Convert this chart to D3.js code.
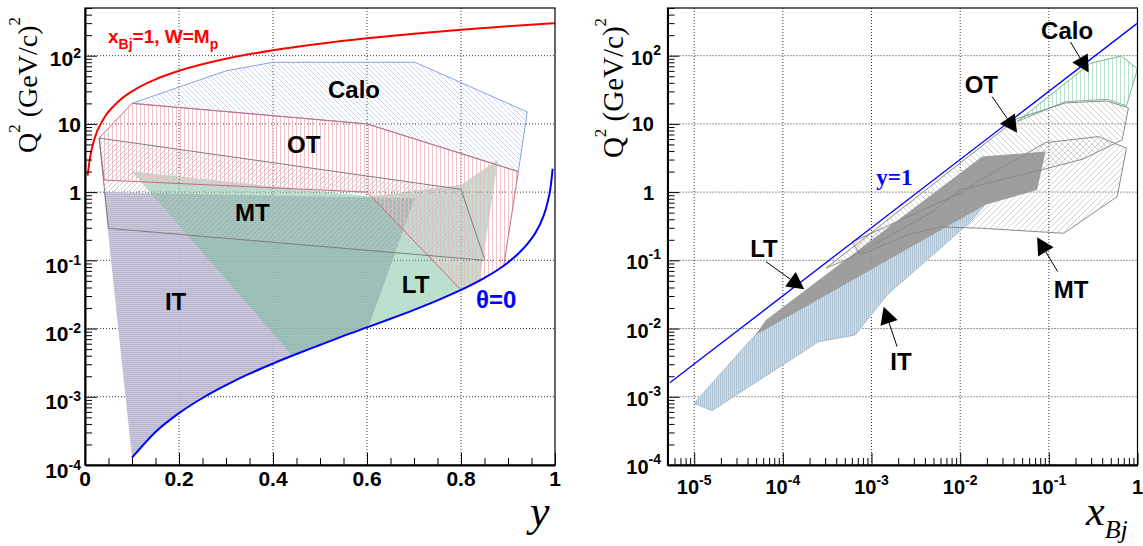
<!DOCTYPE html>
<html><head><meta charset="utf-8">
<script src="https://cdn.jsdelivr.net/npm/d3@7"></script>
<style>body{margin:0;background:#fff}svg{display:block}</style>
</head><body>
<svg id="c" width="1143" height="546"></svg>
<script>
// ---------- DATA (left panel: y vs Q2) ----------
const redY  = [0.0057,0.01,0.02,0.04,0.07,0.1,0.15,0.2,0.3,0.4,0.5,0.6,0.7,0.8,0.9,1.0];
const redQ  = [1.75,3,6,12,21,30,45,60,90,120,150,180,210,240,270,300];
const blueY = [0.1,0.15,0.2,0.25,0.3,0.35,0.4,0.45,0.5,0.55,0.6,0.65,0.7,0.75,0.8,0.85,0.88,0.9,0.92,0.94,0.96,0.97,0.98,0.985,0.99,0.995];
const blueQ = [1.28e-4,3.05e-4,5.75e-4,9.6e-4,1.48e-3,2.18e-3,3.07e-3,4.23e-3,5.75e-3,7.8e-3,0.0104,0.0139,0.0188,0.0259,0.0368,0.0554,0.074,0.0932,0.122,0.17,0.265,0.36,0.55,0.75,1.1,2.2];
const leftIT   = [[0.04,1.0],[0.702,0.81],[0.603,0.0106],[0.55,0.0078],[0.5,0.00575],[0.45,0.00423],[0.4,0.00307],[0.35,0.00218],[0.3,0.00148],[0.25,0.00096],[0.2,0.000575],[0.15,0.000305],[0.1,0.000128]];
const leftLT   = [[0.1,2.0],[0.606,0.86],[0.8,1.28],[0.879,3.0],[0.84,0.051],[0.8,0.0368],[0.75,0.0259],[0.7,0.0188],[0.65,0.0139],[0.6,0.0104],[0.55,0.0078],[0.5,0.00575],[0.44,0.0041]];
const leftCalo = [[0.1,20],[0.3,60],[0.4,80],[0.702,80],[0.941,15],[0.922,2.0],[0.6,10]];
const leftOT   = [[0.03,6.2],[0.1,20],[0.6,10],[0.922,2.0],[0.891,0.084],[0.85,0.0554],[0.8,0.0368],[0.6,1.0],[0.041,1.5]];
const leftMT   = [[0.03,6.2],[0.8,1.1],[0.851,0.1],[0.05,0.295]];
const leftLabels = [["Calo",0.517,24],["OT",0.43,3.72],["MT",0.319,0.382],["IT",0.170,0.0188],["LT",0.674,0.0336]];
const thetaLabel = [0.832,0.02];
const xbjLabel = [0.049,154];

// ---------- DATA (right panel: xBj vs Q2) ----------
const yOneX = [5.3e-6, 1];
const yOneQ = [1.6e-3, 300];
const rightIT   = [[1.0e-5,8.04e-4],[1.585e-5,6.25e-4],[2.53e-4,6.43e-3],[6.56e-4,8.05e-3],[1.496e-3,0.0311],[0.01303,0.3656],[0.019,0.65],[4.875e-5,8.05e-3]];
const rightLT   = [[4.875e-5,8.05e-3],[6.442e-5,0.01337],[0.01766,3.319],[0.09162,3.926],[0.07379,1.076],[0.019,0.65]];
const rightCalo = [[0.04385,10.81],[0.1538,21.23],[0.455,22.86],[0.7516,18.37],[1.0,63.97],[0.6592,99.3],[0.2951,77.6]];
const rightOT   = [[3.09e-4,0.0774],[0.04305,11.83],[0.1538,20.3],[0.4467,21.7],[0.7907,17.18],[0.6714,5.82],[0.2455,3.069],[0.09162,2.188],[0.01005,1.076],[4.613e-3,0.4955],[5.768e-4,0.1084]];
const rightMT   = [[6.067e-4,0.1862],[0.01005,0.9727],[0.0169,1.51],[0.09162,5.321],[0.3631,6.516],[0.7516,4.406],[0.5902,0.859],[0.1472,0.2495],[0.0169,0.2958],[5.984e-3,0.309],[2.518e-3,0.2355],[7.482e-4,0.12]];
const arrowNames  = ["Calo","OT","LT","IT","MT"];
const arrowStartX = [0.1754,0.02291,6.442e-5,1.941e-3,0.1259];
const arrowStartQ = [159.2,25.1,0.0957,5.433e-3,0.06823];
const arrowTipX   = [0.2818,0.04385,1.742e-4,1.371e-3,0.07379];
const arrowTipQ   = [56.5,7.447,0.03767,0.02094,0.2183];
const rightLabels = [["Calo",0.0818,174.6],["OT",0.01125,28.77],["LT",4.285e-5,0.1132],["IT",1.629e-3,2.472e-3],["MT",0.1135,0.0278]];
const yOneLabel = [1.132e-3,1.276];

// ---------- TICKS ----------
const qTicks   = [1e-4,1e-3,1e-2,1e-1,1,10,100];
const qLabels  = [["10","-4"],["10","-3"],["10","-2"],["10","-1"],["1",""],["10",""],["10","2"]];
const yTicks   = [0,0.2,0.4,0.6,0.8,1];
const yTickLab = ["0","0.2","0.4","0.6","0.8","1"];
const xTicks   = [1e-5,1e-4,1e-3,1e-2,1e-1,1];
const xLabels  = [["10","-5"],["10","-4"],["10","-3"],["10","-2"],["10","-1"],["1",""]];

// ---------- SETUP ----------
const svg = d3.select('#c');
const defs = svg.append('defs');
const PT = 8, PB = 465;
const xL = d3.scaleLinear().domain([0,1]).range([85,555]);
const yL = d3.scaleLog().domain([1e-4,500]).range([PB,PT]);
const xR = d3.scaleLog().domain([5e-6,1]).range([667.5,1137.5]);
const yR = yL.copy();
const SANS = '"Liberation Sans", Arial, Helvetica, sans-serif';
const SERIF = '"Liberation Serif", "Times New Roman", serif';

function pattern(id, type, color, s, bg, w) {
  const p = defs.append('pattern').attr('id',id).attr('patternUnits','userSpaceOnUse').attr('width',s).attr('height',s);
  if (bg) p.append('rect').attr('width',s).attr('height',s).attr('fill',bg);
  let d;
  if (type==='v') d = `M0.5,0V${s}`;
  else if (type==='h') d = `M0,0.5H${s}`;
  else if (type==='b') d = `M0,0L${s},${s}M${-1},${s-1}L1,${s+1}M${s-1},-1L${s+1},1`;
  else d = `M0,${s}L${s},0M-1,1L1,-1M${s-1},${s+1}L${s+1},${s-1}`;
  p.append('path').attr('d',d).attr('stroke',color).attr('stroke-width',w||1).attr('fill','none');
}
pattern('pCaloL','b','#c3d1f0',5,null,0.9);
pattern('pOTL','v','#ecbcc3',4,null,0.9);
pattern('pMTL','f','#c6c6c6',5,null,0.9);
pattern('pITL','h','#b6b1cc',2,'#c8c3db');
pattern('pCaloR','v','#b2dcc4',4,null,0.9);
pattern('pOTR','b','#cdcdcd',6,null,0.9);
pattern('pMTR','f','#cdcdcd',6,null,0.9);
pattern('pITR','v','#b0c4d3',2,'#d0dce6');

defs.append('clipPath').attr('id','clipL').append('rect').attr('x',85).attr('y',PT).attr('width',470).attr('height',PB-PT);
defs.append('clipPath').attr('id','clipR').append('rect').attr('x',667.5).attr('y',PT).attr('width',470).attr('height',PB-PT);

function minorLog(lo, hi) {
  const out = [];
  for (let e = -7; e <= 3; e++) for (let m = 2; m <= 9; m++) { const v = m*Math.pow(10,e); if (v>lo && v<=hi) out.push(v); }
  return out;
}

// ---------- PANEL DRAWING ----------
function grid(g, xs, xVals, ys) {
  xVals.forEach(v => g.append('line').attr('x1',xs(v)).attr('x2',xs(v)).attr('y1',PT).attr('y2',PB)
    .attr('stroke','#333').attr('stroke-width',1).attr('stroke-dasharray','1,2'));
  qTicks.slice(1).forEach(v => g.append('line').attr('x1',xs.range()[0]).attr('x2',xs.range()[1]).attr('y1',ys(v)).attr('y2',ys(v))
    .attr('stroke','#333').attr('stroke-width',1).attr('stroke-dasharray','1,2'));
}
function poly(g, pts, xs, ys, fill, stroke, op) {
  const line = d3.line().x(d=>xs(d[0])).y(d=>ys(d[1]));
  return g.append('path').attr('d', line(pts)+'Z').attr('fill',fill||'none')
    .attr('stroke',stroke||'none').attr('stroke-width',1).attr('fill-opacity',op==null?1:op);
}

// LEFT
const gL = svg.append('g');
const cL = gL.append('g').attr('clip-path','url(#clipL)');
grid(cL, xL, [0.2,0.4,0.6,0.8], yL);
poly(cL, leftIT, xL, yL, 'url(#pITL)', null, 0.92);
poly(cL, leftLT, xL, yL, 'rgb(112,190,150)', null, 0.48);
poly(cL, leftCalo, xL, yL, 'url(#pCaloL)', null);
poly(cL, leftOT, xL, yL, 'url(#pOTL)', null);
poly(cL, leftMT, xL, yL, 'url(#pMTL)', null);
poly(cL, leftCalo, xL, yL, 'none', '#86a4e2');
poly(cL, leftOT, xL, yL, 'none', '#cc6a78');
poly(cL, leftMT, xL, yL, 'none', '#7e7e7e');
const curveL = d3.line().x(d=>xL(d[0])).y(d=>yL(d[1])).curve(d3.curveMonotoneX);
cL.append('path').attr('d', curveL(redY.map((v,i)=>[v,redQ[i]]))).attr('fill','none').attr('stroke','#ff0000').attr('stroke-width',2);
cL.append('path').attr('d', curveL(blueY.map((v,i)=>[v,blueQ[i]]))).attr('fill','none').attr('stroke','#0000ff').attr('stroke-width',2);

leftLabels.forEach(l => gL.append('text').attr('x',xL(l[1])).attr('y',yL(l[2])).text(l[0])
  .attr('font-family',SANS).attr('font-weight','bold').attr('font-size',24).attr('fill','#000'));
gL.append('text').attr('x',xL(thetaLabel[0])).attr('y',yL(thetaLabel[1])).text('θ=0')
  .attr('font-family',SANS).attr('font-weight','bold').attr('font-size',24).attr('fill','#0000ff');
{
  const t = gL.append('text').attr('x',xL(xbjLabel[0])).attr('y',yL(xbjLabel[1]))
    .attr('font-family',SANS).attr('font-weight','bold').attr('font-size',19).attr('fill','#ff0000');
  t.append('tspan').text('x');
  t.append('tspan').attr('font-size',14).attr('dy',6).text('Bj');
  t.append('tspan').attr('dy',-6).text('=1, W=M');
  t.append('tspan').attr('font-size',14).attr('dy',6).text('p');
}

// RIGHT
const gR = svg.append('g');
const cR = gR.append('g').attr('clip-path','url(#clipR)');
grid(cR, xR, [1e-5,1e-4,1e-3,1e-2,1e-1], yR);
poly(cR, rightIT, xR, yR, 'url(#pITR)', '#a9bfcf');
poly(cR, rightCalo, xR, yR, 'url(#pCaloR)', null);
poly(cR, rightOT, xR, yR, 'url(#pOTR)', null);
poly(cR, rightMT, xR, yR, 'url(#pMTR)', null);
poly(cR, rightLT, xR, yR, '#979797', null, 0.93);
poly(cR, rightCalo, xR, yR, 'none', '#79b795');
poly(cR, rightOT, xR, yR, 'none', '#8a8a8a');
poly(cR, rightMT, xR, yR, 'none', '#8a8a8a');
const lineR = d3.line().x(d=>xR(d[0])).y(d=>yR(d[1]));
cR.append('path').attr('d', lineR(yOneX.map((v,i)=>[v,yOneQ[i]]))).attr('fill','none').attr('stroke','#0000ff').attr('stroke-width',1.3);

function arrow(g, x0,y0,x1,y1) {
  const dx=x1-x0, dy=y1-y0, L=Math.hypot(dx,dy), ux=dx/L, uy=dy/L, hl=17, hw=9;
  const bx=x1-ux*hl, by=y1-uy*hl;
  g.append('line').attr('x1',x0).attr('y1',y0).attr('x2',bx).attr('y2',by).attr('stroke','#000').attr('stroke-width',1);
  g.append('path').attr('d',`M${x1},${y1}L${bx-uy*hw},${by+ux*hw}L${bx+uy*hw},${by-ux*hw}Z`).attr('fill','#000');
}
arrowNames.forEach((n,i) => arrow(gR, xR(arrowStartX[i]), yR(arrowStartQ[i]), xR(arrowTipX[i]), yR(arrowTipQ[i])));
rightLabels.forEach(l => gR.append('text').attr('x',xR(l[1])).attr('y',yR(l[2])).text(l[0])
  .attr('font-family',SANS).attr('font-weight','bold').attr('font-size',24).attr('fill','#000'));
gR.append('text').attr('x',xR(yOneLabel[0])).attr('y',yR(yOneLabel[1])).text('y=1')
  .attr('font-family',SERIF).attr('font-weight','bold').attr('font-size',23).attr('fill','#0000ff');

// ---------- AXES ----------
function styleAxis(sel, dom) {
  sel.selectAll('.tick line').attr('stroke','#000').attr('stroke-width',1);
  if (dom) sel.select('.domain').attr('stroke','#000').attr('stroke-width',2);
  else sel.select('.domain').remove();
}
function axes(xs, xMajor, xMinor, x0) {
  const gA = svg.append('g');
  gA.append('rect').attr('x',x0).attr('y',PT).attr('width',470).attr('height',PB-PT).attr('fill','none').attr('stroke','#000').attr('stroke-width',1.2);
  const ay = gA.append('g').attr('transform',`translate(${x0},0)`);
  ay.call(d3.axisLeft(yL).tickValues(qTicks).tickSize(-12).tickSizeOuter(0).tickFormat(()=>''));
  styleAxis(ay, true);
  const ay2 = gA.append('g').attr('transform',`translate(${x0},0)`);
  ay2.call(d3.axisLeft(yL).tickValues(minorLog(1e-4,500)).tickSize(-7).tickSizeOuter(0).tickFormat(()=>''));
  styleAxis(ay2, false);
  const ax = gA.append('g').attr('transform',`translate(0,${PB})`);
  ax.call(d3.axisBottom(xs).tickValues(xMajor).tickSize(-12).tickSizeOuter(0).tickFormat(()=>''));
  styleAxis(ax, true);
  const ax2 = gA.append('g').attr('transform',`translate(0,${PB})`);
  ax2.call(d3.axisBottom(xs).tickValues(xMinor).tickSize(-7).tickSizeOuter(0).tickFormat(()=>''));
  styleAxis(ax2, false);
  return gA;
}
function label(g, x, y, base, exp, anchor, sdy, fs) {
  const t = g.append('text').attr('x',x).attr('y',y).attr('text-anchor',anchor)
    .attr('font-family',SANS).attr('font-weight','bold').attr('font-size',fs||21).attr('fill','#000');
  t.append('tspan').text(base);
  if (exp) t.append('tspan').attr('font-size',14).attr('dy',sdy).text(exp);
}
const aL = axes(xL, yTicks, [0.05,0.1,0.15,0.25,0.3,0.35,0.45,0.5,0.55,0.65,0.7,0.75,0.85,0.9,0.95], 85);
qTicks.forEach((v,i) => {
  const e = qLabels[i][1];
  label(aL, 81, yL(v) + (e ? (e[0]==='-' ? 12.5 : 10) : 8), qLabels[i][0], e, 'end', -8);
});
yTicks.forEach((v,i) => label(aL, xL(v), 486, yTickLab[i], '', 'middle', 0));

const aR = axes(xR, xTicks, minorLog(5e-6,1).filter(v=>v<1), 667.5);
qTicks.forEach((v,i) => {
  const e = qLabels[i][1];
  label(aR, e ? 661 : 654, yR(v) + (e ? 9 : 7.5), qLabels[i][0], e, 'end', -10, 20);
});
xTicks.forEach((v,i) => label(aR, xR(v), 494, xLabels[i][0], xLabels[i][1], 'middle', -9, 20));

// ---------- AXIS TITLES ----------
function qTitle(x, y, fs) {
  const t = svg.append('text').attr('transform',`translate(${x},${y}) rotate(-90)`).attr('text-anchor','middle')
    .attr('font-family',SERIF).attr('font-size',fs).attr('fill','#000');
  t.append('tspan').text('Q');
  t.append('tspan').attr('font-size',17).attr('dy',-17).text('2');
  t.append('tspan').attr('dy',17).text(' (GeV/c)');
  t.append('tspan').attr('font-size',17).attr('dy',-17).text('2');
}
qTitle(37, 85, 28);
qTitle(623, 88, 29);
svg.append('text').attr('x',530).attr('y',526).attr('font-family',SERIF).attr('font-style','italic')
  .attr('font-size',44).attr('fill','#000').text('y');
{
  const t = svg.append('text').attr('x',1086).attr('y',525).attr('font-family',SERIF).attr('font-style','italic')
    .attr('font-size',42).attr('fill','#000');
  t.append('tspan').text('x');
  t.append('tspan').attr('font-size',26).attr('dy',13).text('Bj');
}
</script>
</body></html>
